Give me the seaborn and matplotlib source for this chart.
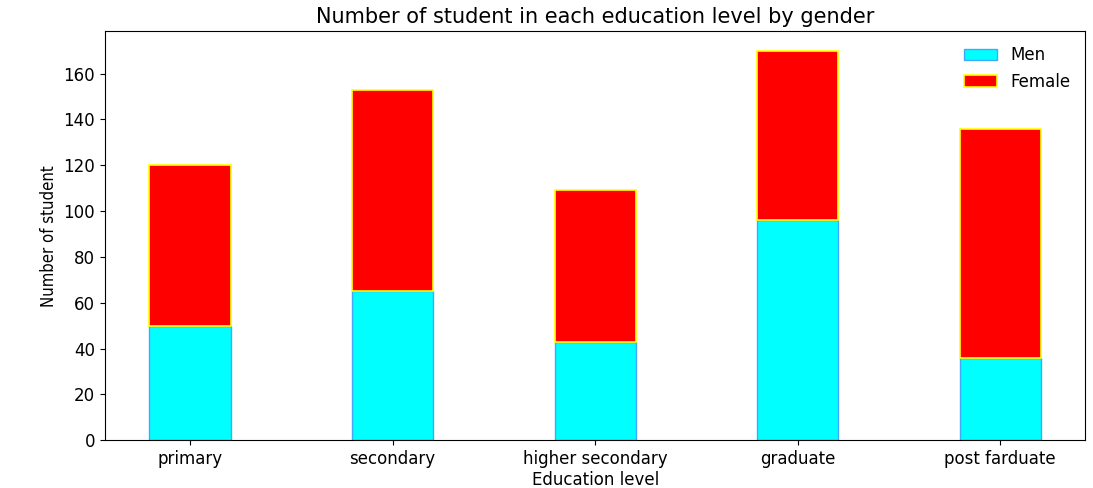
import matplotlib
matplotlib.use("Agg")
import matplotlib.pyplot as plt
import seaborn as sns
import pandas as pd

categories = ["primary", "secondary", "higher secondary", "graduate", "post farduate"]
men = [50, 65, 43, 96, 36]
female = [70, 88, 66, 74, 100]

df = pd.DataFrame({"level": categories, "men": men, "female": female})

sns.set_style("ticks")
plt.rcParams['font.family'] = ['DejaVu Sans']
for k in ["text.color", "axes.labelcolor", "xtick.color", "ytick.color", "axes.edgecolor"]:
    plt.rcParams[k] = "black"

fig = plt.figure(figsize=(10.93, 4.88), dpi=100)
ax = fig.add_axes([0.096, 0.098, 0.897, 0.838])

sns.barplot(data=df, x="level", y="men", color="cyan", edgecolor="#3fa9ff",
            linewidth=1.0, width=0.4, saturation=1, ax=ax, label="Men")
sns.barplot(data=df, x="level", y="female", color="red", edgecolor="yellow",
            linewidth=1.2, width=0.4, saturation=1, ax=ax, label="Female",
            bottom=df["men"].values)

ax.set_xlim(-0.42, 4.42)
ax.set_ylim(0, 178.5)
ax.set_yticks(range(0, 161, 20))
for s in ax.spines.values():
    s.set_visible(True)
    s.set_color("black")

ax.set_title("Number of student in each education level by gender", fontsize=15)
ax.set_xlabel("Education level", fontsize=12, labelpad=2)
ax.set_ylabel("Number of student", fontsize=12, fontstretch="condensed")
ax.tick_params(axis="both", labelsize=12)

ax.legend(frameon=False, fontsize=12, loc="upper right")

fig.savefig("out.png", dpi=100)
